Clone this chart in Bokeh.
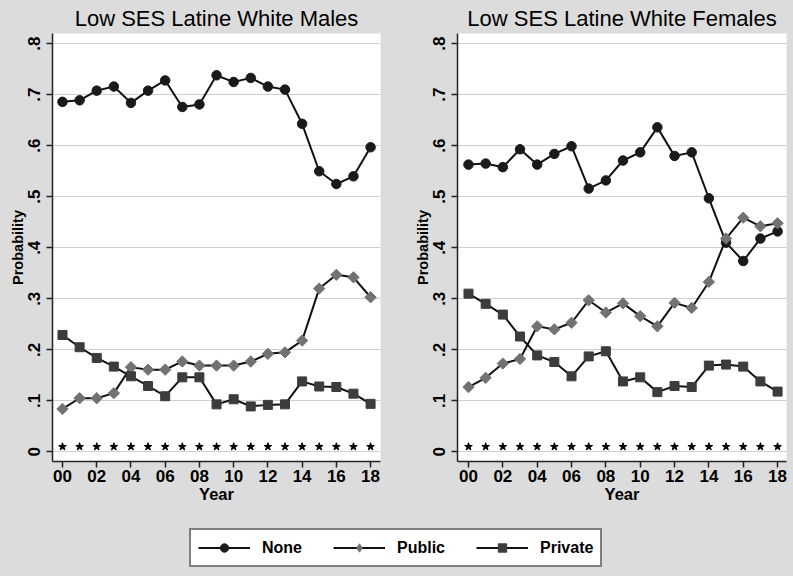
import math
from bokeh.plotting import figure
from bokeh.layouts import column, row
from bokeh.models import Range1d, FixedTicker, Legend, LegendItem
from bokeh.embed import file_html
from bokeh.resources import INLINE

years = list(range(19))
x_ticks = [0, 2, 4, 6, 8, 10, 12, 14, 16, 18]
x_tick_labels = ["00", "02", "04", "06", "08", "10", "12", "14", "16", "18"]
y_ticks = [0, 0.1, 0.2, 0.3, 0.4, 0.5, 0.6, 0.7, 0.8]
y_tick_labels = ["0", ".1", ".2", ".3", ".4", ".5", ".6", ".7", ".8"]

male_none = [0.686, 0.689, 0.708, 0.716, 0.684, 0.708, 0.728, 0.676, 0.681, 0.738,
             0.725, 0.733, 0.716, 0.710, 0.643, 0.550, 0.525, 0.540, 0.597]
male_public = [0.084, 0.105, 0.105, 0.115, 0.166, 0.161, 0.161, 0.177, 0.169, 0.169,
               0.169, 0.177, 0.192, 0.195, 0.218, 0.320, 0.347, 0.342, 0.303]
male_private = [0.229, 0.205, 0.184, 0.167, 0.148, 0.129, 0.109, 0.146, 0.146, 0.093,
                0.103, 0.089, 0.092, 0.093, 0.138, 0.128, 0.127, 0.114, 0.094]

female_none = [0.563, 0.565, 0.558, 0.593, 0.563, 0.584, 0.599, 0.516, 0.532, 0.571,
               0.587, 0.636, 0.580, 0.587, 0.497, 0.410, 0.374, 0.418, 0.432]
female_public = [0.127, 0.145, 0.173, 0.182, 0.246, 0.240, 0.253, 0.297, 0.273, 0.291,
                 0.266, 0.246, 0.292, 0.282, 0.333, 0.418, 0.459, 0.442, 0.448]
female_private = [0.310, 0.290, 0.269, 0.226, 0.189, 0.176, 0.148, 0.187, 0.197, 0.138,
                  0.146, 0.117, 0.129, 0.127, 0.169, 0.171, 0.167, 0.138, 0.118]

stars = [0.01] * 19

series_names = ["None", "Public", "Private"]

BG = "#dcdcdc"
FONT = "Liberation Sans"
C_NONE = "#1a1a1a"
C_PUB = "#727272"
C_PRIV = "#3c3c3c"
DIAMOND_ANGLE = math.pi / 4


def make_panel(title, none, public, private, width, mb_left, mb_right, xr):
    p = figure(width=width, height=513, output_backend="svg", toolbar_location=None,
               x_range=Range1d(*xr), y_range=Range1d(-0.019, 0.82),
               min_border_left=mb_left, min_border_right=mb_right,
               min_border_top=33, min_border_bottom=52,
               background_fill_color="white", border_fill_color=BG,
               styles={"background-color": BG})
    p.outline_line_color = None
    p.title.text = title
    p.title.align = "center"
    p.title.text_font = FONT
    p.title.text_font_size = "22px"
    p.title.text_font_style = "normal"
    p.title.text_color = "black"
    p.title.standoff = 6

    p.xgrid.visible = False
    p.ygrid.ticker = FixedTicker(ticks=y_ticks)
    p.ygrid.grid_line_color = "#cfcfcf"
    p.ygrid.grid_line_width = 1

    p.xaxis.ticker = FixedTicker(ticks=x_ticks)
    p.xaxis.major_label_overrides = dict(zip(x_ticks, x_tick_labels))
    p.yaxis.ticker = FixedTicker(ticks=y_ticks)
    p.yaxis.major_label_overrides = dict(zip(y_ticks, y_tick_labels))
    p.yaxis.major_label_orientation = "vertical"
    p.xaxis.axis_label = "Year"
    p.yaxis.axis_label = "Probability"
    for ax in (p.xaxis, p.yaxis):
        ax.axis_line_color = "#222222"
        ax.axis_line_width = 1.5
        ax.major_tick_line_color = "#222222"
        ax.major_tick_line_width = 1.5
        ax.major_tick_in = 0
        ax.major_tick_out = 6
        ax.minor_tick_line_color = None
        ax.major_label_text_font = FONT
        ax.major_label_text_font_size = "17px"
        ax.major_label_text_font_style = "bold"
        ax.major_label_text_color = "black"
        ax.axis_label_text_font = FONT
        ax.axis_label_text_font_style = "bold"
        ax.axis_label_text_color = "black"
        ax.axis_label_standoff = 0
    p.xaxis.axis_label_text_font_size = "16.5px"
    p.yaxis.axis_label_text_font_size = "14.5px"
    p.xaxis.major_label_standoff = 2
    p.yaxis.major_label_standoff = 6

    p.line(years, none, line_color="#111111", line_width=2)
    p.scatter(years, none, marker="circle", size=9.5, fill_color=C_NONE, line_color=C_NONE)
    p.line(years, public, line_color="#111111", line_width=2)
    p.scatter(years, public, marker="square", angle=DIAMOND_ANGLE, size=8,
              fill_color=C_PUB, line_color=C_PUB)
    p.line(years, private, line_color="#111111", line_width=2)
    p.scatter(years, private, marker="square", size=9, fill_color=C_PRIV, line_color=C_PRIV)
    p.scatter(years, stars, marker="star", size=8, fill_color="black", line_color="black")
    return p


p1 = make_panel("Low SES Latine White Males", male_none, male_public, male_private,
                395, 52, 15, (-0.584, 18.58))
p2 = make_panel("Low SES Latine White Females", female_none, female_public, female_private,
                398, 62, 7, (-0.64, 18.52))

# Legend strip
pl = figure(width=793, height=63, output_backend="svg", toolbar_location=None,
            x_range=Range1d(1000, 1001), y_range=Range1d(1000, 1001),
            min_border=0, background_fill_color=BG, border_fill_color=BG,
            styles={"background-color": BG})
pl.axis.visible = False
pl.grid.visible = False
pl.outline_line_color = None

items = []
for name, vals, marker, col in [
        (series_names[0], male_none, "circle", C_NONE),
        (series_names[1], male_public, "diamond", C_PUB),
        (series_names[2], male_private, "square", C_PRIV)]:
    lr = pl.line(years, vals, line_color="#111111", line_width=2)
    sr = pl.scatter(years, vals, marker=marker, size=9,
                    fill_color=col, line_color=col)
    items.append(LegendItem(label=name, renderers=[lr, sr]))

leg = Legend(items=items, orientation="horizontal", location=(189, 9))
leg.glyph_width = 52
leg.glyph_height = 21
leg.label_standoff = 12
leg.spacing = 31
leg.padding = 7
leg.margin = 0
leg.label_text_font = FONT
leg.label_text_font_size = "16px"
leg.label_text_font_style = "bold"
leg.label_text_color = "black"
leg.border_line_color = "black"
leg.border_line_width = 2
leg.background_fill_color = "white"
leg.background_fill_alpha = 1
pl.add_layout(leg, "center")

layout = column(row(p1, p2, spacing=0), pl, spacing=0,
                styles={"background-color": BG})

html = file_html(layout, INLINE)
html = html.replace(
    "<head>",
    "<head><style>html, body { background-color: %s; margin: 0; padding: 0; overflow: hidden; }</style>" % BG,
    1)
open("out.html", "w").write(html)
